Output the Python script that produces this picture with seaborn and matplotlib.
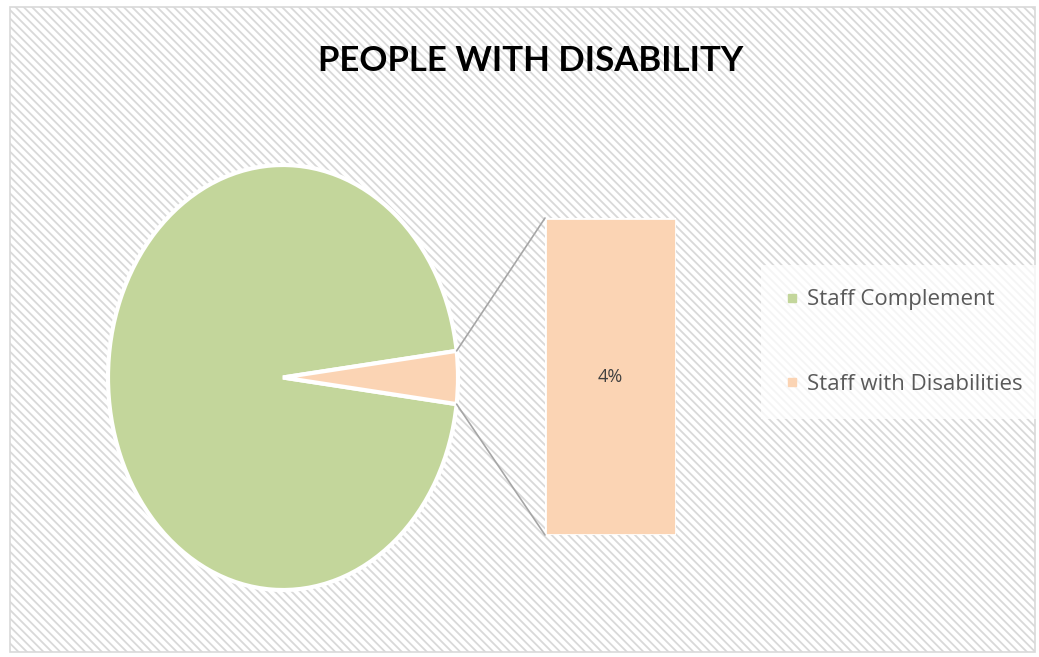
import matplotlib
matplotlib.use('Agg')
import matplotlib.pyplot as plt
import seaborn as sns
import pandas as pd
import numpy as np
from matplotlib.patches import Rectangle, ConnectionPatch
from matplotlib.lines import Line2D

sns.set_style('white')
plt.rcParams['font.family'] = ['Open Sans', 'DejaVu Sans']

# data
labels = ['Staff Complement', 'Staff with Disabilities']
shares = [96, 4]
bar_label = '4%'
title = 'PEOPLE WITH DISABILITY'
colors = ['#C3D69B', '#FBD4B4']

fig = plt.figure(figsize=(10.39, 6.57), dpi=100)

# hatched background panel
plt.rcParams['hatch.linewidth'] = 1.3
bg = Rectangle((10 / 1039, 1 - 652 / 657), 1025 / 1039, 645 / 657, transform=fig.transFigure,
               facecolor='white', edgecolor='#d9d9d9', hatch='\\\\\\\\', lw=1.2, zorder=-5)
fig.patches.append(bg)

fig.text(531 / 1039, 1 - 61 / 657, title, ha='center', va='center', fontsize=25,
         fontweight='bold', color='black', family=['Lato', 'DejaVu Sans'])

# pie (stretched like in the original)
ax_pie = fig.add_axes([108 / 1039, 1 - 590 / 657, 350 / 1039, 425 / 657])
ax_pie.pie(shares, colors=colors, startangle=7.2, counterclock=True,
           wedgeprops=dict(edgecolor='white', linewidth=3))
ax_pie.set_aspect('auto')
ax_pie.set_xlim(-1, 1)
ax_pie.set_ylim(-1, 1)
ax_pie.axis('off')

# bar
ax_bar = fig.add_axes([545 / 1039, 1 - 535 / 657, 131 / 1039, 317 / 657])
df = pd.DataFrame({'cat': [labels[1]], 'val': [shares[1]]})
sns.barplot(data=df, x='cat', y='val', color=colors[1], width=1.0, saturation=1,
            edgecolor='white', linewidth=2, ax=ax_bar)
ax_bar.set_ylim(0, shares[1])
ax_bar.set_xlim(-0.5, 0.5)
ax_bar.axis('off')
ax_bar.text(0, shares[1] / 2, bar_label, ha='center', va='center', fontsize=13, color='#404040')

# connector lines
a = np.deg2rad(7.2)
for sgn, yb in [(1, 1), (-1, 0)]:
    con = ConnectionPatch(xyA=(np.cos(a), sgn * np.sin(a)), coordsA=ax_pie.transData,
                          xyB=(0, yb), coordsB=ax_bar.transAxes, color='#a6a6a6', lw=1.2)
    fig.add_artist(con)

handles = [Line2D([], [], marker='s', ls='none', markersize=6, color=c) for c in colors]
leg = fig.legend(handles, labels, loc='center left', bbox_to_anchor=(768 / 1039, 1 - 342 / 657),
                 frameon=True, fontsize=16, labelspacing=2.85, handlelength=0.6, handletextpad=0.35,
                 borderpad=0.8, borderaxespad=0, labelcolor='#595959')
leg.get_frame().set_facecolor('white')
leg.get_frame().set_alpha(0.75)
leg.get_frame().set_edgecolor('none')
leg.get_frame().set_boxstyle('square')

fig.savefig('out.png', dpi=100)
